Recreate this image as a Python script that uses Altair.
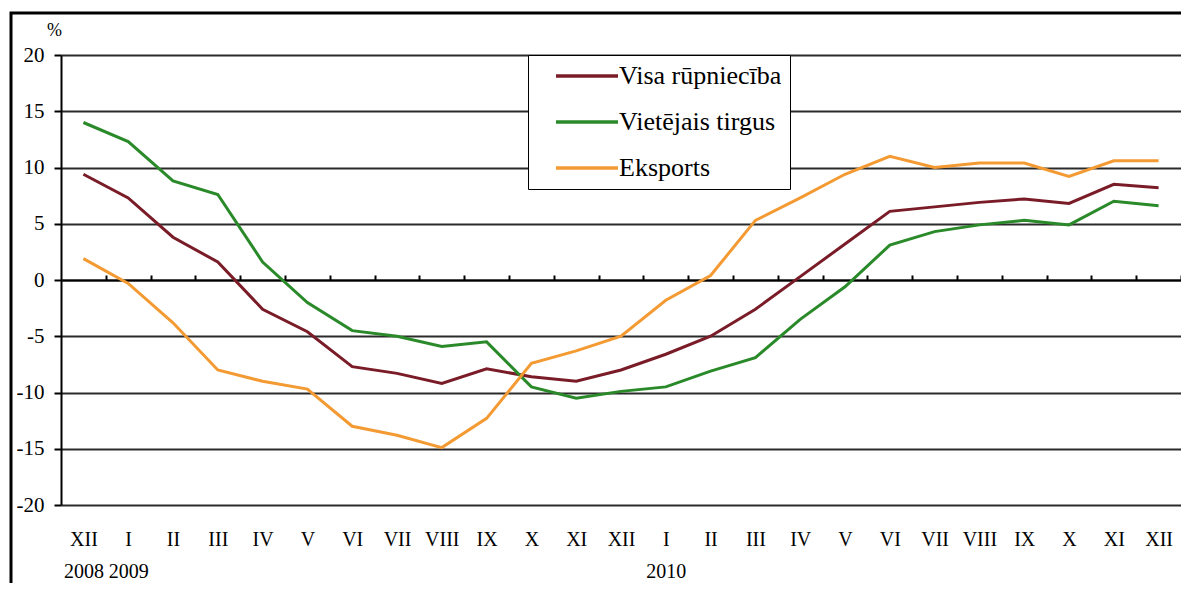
import json
import altair as alt
import pandas as pd

months = ["XII", "I", "II", "III", "IV", "V", "VI", "VII", "VIII", "IX", "X", "XI", "XII",
          "I", "II", "III", "IV", "V", "VI", "VII", "VIII", "IX", "X", "XI", "XII"]
years = ["2008", "2009", "", "", "", "", "", "", "", "", "", "", "",
         "2010", "", "", "", "", "", "", "", "", "", "", ""]
series = ["Visa rūpniecība", "Vietējais tirgus", "Eksports"]
visa = [9.4, 7.3, 3.8, 1.6, -2.6, -4.6, -7.7, -8.3, -9.2, -7.9, -8.6, -9.0, -8.0,
        -6.6, -5.0, -2.6, 0.3, 3.2, 6.1, 6.5, 6.9, 7.2, 6.8, 8.5, 8.2]
vietejais = [14.0, 12.3, 8.8, 7.6, 1.6, -2.0, -4.5, -5.0, -5.9, -5.5, -9.5, -10.5, -9.9,
             -9.5, -8.1, -6.9, -3.5, -0.6, 3.1, 4.3, 4.9, 5.3, 4.9, 7.0, 6.6]
eksports = [1.9, -0.3, -3.8, -8.0, -9.0, -9.7, -13.0, -13.8, -14.9, -12.3, -7.4, -6.3, -5.0,
            -1.8, 0.4, 5.3, 7.3, 9.4, 11.0, 10.0, 10.4, 10.4, 9.2, 10.6, 10.6]
colors = ["#7A1C28", "#2A8A2A", "#F39A33"]
y_ticks = [-20, -15, -10, -5, 0, 5, 10, 15, 20]

rows = []
for name, vals in zip(series, [visa, vietejais, eksports]):
    for i, v in enumerate(vals):
        rows.append({"i": i, "value": v, "series": name})
df = pd.DataFrame(rows)

W, H = 1120, 450
FONT = "Liberation Serif, Times New Roman, serif"
n = len(months)
xscale = alt.Scale(domain=[-0.5, n - 0.5], nice=False, zero=False)
yscale = alt.Scale(domain=[-20, 20], nice=False, zero=False)

label_expr = "[" + json.dumps(months, ensure_ascii=False) + "[datum.value], " + \
             json.dumps(years) + "[datum.value]]"

lines = alt.Chart(df).mark_line(strokeWidth=3).encode(
    x=alt.X("i:Q", scale=xscale, title=None,
            axis=alt.Axis(values=list(range(n)), labelExpr=label_expr, domain=False,
                          ticks=False, grid=False, labelPadding=24, labelFont=FONT,
                          labelFontSize=20, labelLineHeight=32, labelColor="black",
                          labelFlush=False, labelOverlap=False, labelBaseline="top")),
    y=alt.Y("value:Q", scale=yscale,
            axis=alt.Axis(values=y_ticks, grid=True, gridColor="#2b2b2b", gridWidth=2,
                          domainColor="black", domainWidth=2, tickColor="black",
                          tickWidth=2, tickSize=7, labelPadding=10, labelFont=FONT,
                          labelFontSize=21, labelColor="black",
                          labelExpr="datum.value + ''", title="%", titleAngle=0,
                          titleX=-7, titleY=-25, titleAlign="center",
                          titleBaseline="middle", titleFont=FONT, titleFontSize=18,
                          titleFontWeight="normal", titleColor="black")),
    color=alt.Color("series:N", scale=alt.Scale(domain=series, range=colors),
                    legend=alt.Legend(title=None, orient="none", legendX=467, legendY=0,
                                      direction="vertical", symbolType="M-3.1,0L3.1,0",
                                      symbolSize=400, symbolStrokeWidth=3.5,
                                      symbolOffset=38, labelFont=FONT, labelFontSize=26,
                                      labelOffset=19, rowPadding=20, padding=8,
                                      strokeColor="black", fillColor="white",
                                      labelColor="black", labelLimit=400)),
)

zero_axis = alt.Chart(df).mark_point(opacity=0).encode(
    x=alt.X("i:Q", scale=xscale, title=None,
            axis=alt.Axis(values=[k + 0.5 for k in range(n)], labels=False, domain=True,
                          domainColor="black", domainWidth=2, ticks=True, tickSize=5,
                          tickColor="black", tickWidth=2, grid=False, offset=-225)),
)

frame = alt.Chart(pd.DataFrame({"k": [0]})).mark_rect(
    fillOpacity=0, stroke="black", strokeWidth=3
).encode(x=alt.value(-50), x2=alt.value(3000), y=alt.value(-42), y2=alt.value(3000))

chart = alt.layer(frame, lines, zero_axis).resolve_axis(x="independent").properties(
    width=W, height=H,
    autosize=alt.AutoSizeParams(type="none"),
    padding={"left": 53, "top": 47, "right": 0, "bottom": 78},
).configure(font=FONT).configure_view(strokeWidth=0)

chart.save("out.html", embed_options={"renderer": "svg", "actions": False})
